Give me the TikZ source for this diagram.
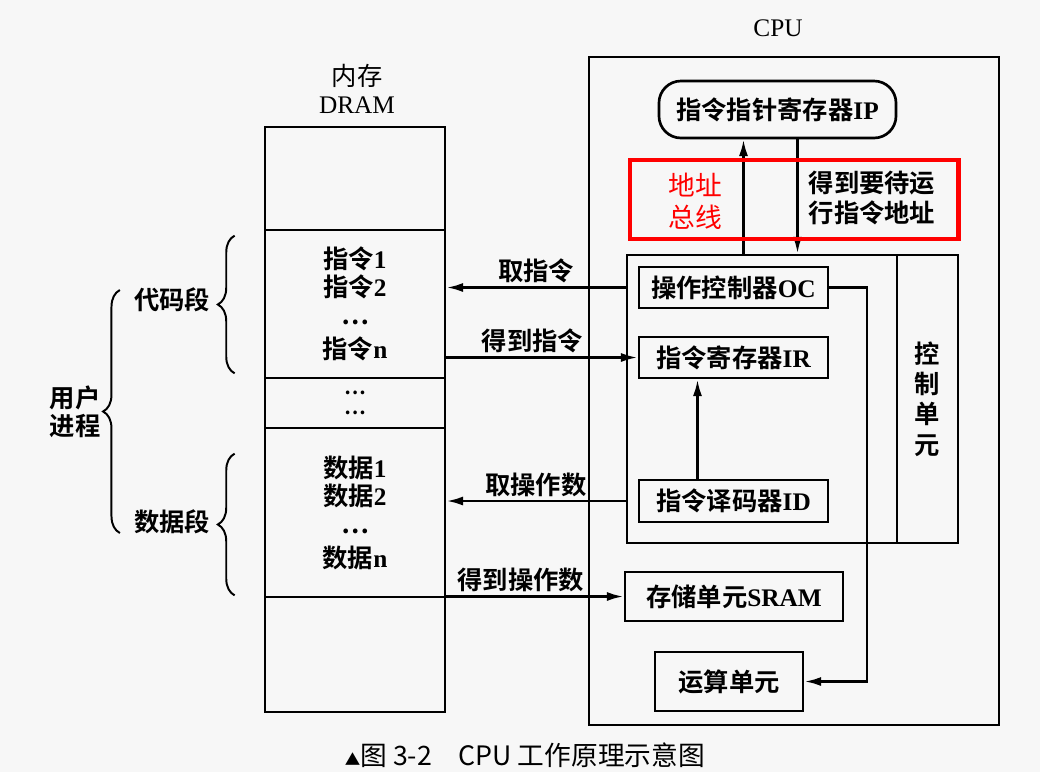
\documentclass[tikz,border=0pt]{standalone}
\usepackage{fontspec}
\setmainfont{Liberation Serif}
\newfontfamily\cjk{Noto Sans CJK SC}[BoldFont={Noto Sans CJK SC Bold}]
\usetikzlibrary{arrows.meta,positioning,calc,decorations.pathreplacing}

\newcommand\zh[1]{{\cjk #1}}
\newcommand\lblfont{\fontsize{18}{20}\selectfont\bfseries}
\newcommand\titlefont{\fontsize{18}{20}\selectfont}
\newcommand\redfont{\fontsize{19}{23}\selectfont\cjk}
\newcommand\ctlfont{\fontsize{18}{21.5}\selectfont\bfseries\cjk}
\newcommand\dotsfont{\fontsize{14}{14}\selectfont\bfseries}
\newcommand\capfont{\fontsize{19}{22}\selectfont\cjk}

\begin{document}
\begin{tikzpicture}[
    x=0.025cm, y=-0.025cm,
    line width=1.9pt,
    box/.style={rectangle, draw, inner sep=0pt, font=\lblfont},
    cell/.style={box, minimum width=4.5cm, align=center},
    arr/.style={-{Latex[length=12pt,width=6.5pt]}},
    lbl/.style={font=\lblfont, inner sep=2pt},
    brc/.style={decorate, decoration={brace, amplitude=0.42cm}, line width=1.4pt}
]
    % page
    \fill[black!3] (0,0) rectangle (1040,772);
    \useasboundingbox (0,0) rectangle (1040,772);

    % Memory
    \node[font=\titlefont, align=center] (dramlbl) at (357,89) {\zh{内存}\\DRAM};
    \node[cell, minimum height=2.575cm] (mtop) at (355,178.5) {};
    \node[cell, minimum height=3.7cm] (mcode) at (355,304) {\zh{指令}1\\\zh{指令}2\\\zh{…}\\[4pt]\zh{指令}n};
    \node[cell, minimum height=1.25cm, font=\dotsfont] (mdots) at (355,403) {\zh{…}\\\zh{…}};
    \node[cell, minimum height=4.225cm] (mdata) at (355,512.5) {\zh{数据}1\\\zh{数据}2\\\zh{…}\\[4pt]\zh{数据}n};
    \node[cell, minimum height=2.875cm] (mbot) at (355,654.5) {};

    % Segments
    \node[lbl] (codeseg) at (172,300) {\zh{代码段}};
    \node[lbl] (dataseg) at (172,522) {\zh{数据段}};
    \node[lbl, align=center] (user) at (75,412) {\zh{用户}\\\zh{进程}};
    \draw[brc] ($(mcode.south west)+(-29,-6)$) -- ($(mcode.north west)+(-29,7)$);
    \draw[brc] ($(mdata.south west)+(-29,-3)$) -- ($(mdata.north west)+(-29,27)$);
    \draw[brc] ($(dataseg.west)+(-10,11)$) -- ($(codeseg.west)+(-10,-10)$);

    % CPU
    \node[font=\titlefont] (cpulbl) at (778,28) {CPU};
    \node[box, minimum width=10.25cm, minimum height=16.7cm] (cpu) at (794,391) {};
    \node[box, rounded corners=0.55cm, minimum width=5.925cm, minimum height=1.425cm] (ip) at (777.5,109.5) {\zh{指令指针寄存器}IP};
    \node[box, minimum width=6.75cm, minimum height=7.2cm] (cu) at (762,399) {};
    \node[box, minimum width=1.525cm, minimum height=7.2cm, align=center, font=\ctlfont] (ctl) at (927.5,399) {控\\制\\单\\元};
    \node[box, minimum width=4.725cm, minimum height=1.025cm] (oc) at (733.5,287.5) {\zh{操作控制器}OC};
    \node[box, minimum width=4.725cm, minimum height=1.025cm] (ir) at (733.5,357.5) {\zh{指令寄存器}IR};
    \node[box, minimum width=4.725cm, minimum height=1.05cm] (id) at (733.5,501) {\zh{指令译码器}ID};
    \node[box, minimum width=5.45cm, minimum height=1.225cm] (sram) at (734,596.5) {\zh{存储单元}SRAM};
    \node[box, minimum width=3.7cm, minimum height=1.475cm] (alu) at (729,681.5) {\zh{运算单元}};

    % IP bus
    \coordinate (upx) at ([xshift=-0.85cm]ip.south);
    \coordinate (dnx) at ([xshift=0.5cm]ip.south);
    \draw[arr] (upx |- cu.north) -- (upx);
    \draw[arr] (dnx) -- (dnx |- cu.north);
    \node[lbl, align=center, font={\fontsize{18}{21}\selectfont\bfseries}] (iplbl) at (872,198) {\zh{得到要待运}\\\zh{行指令地址}};

    % Memory <-> CPU
    \draw[arr] (oc -| cu.west) -- node[lbl, above] {\zh{取指令}} (oc -| mcode.east);
    \draw[arr] (ir -| mcode.east) -- node[lbl, above, pos=0.45] {\zh{得到指令}} (ir.west);
    \draw[arr] (id -| cu.west) -- node[lbl, above] {\zh{取操作数}} (id -| mdata.east);
    \draw[arr] (sram -| mdata.east) -- node[lbl, above, pos=0.42] {\zh{得到操作数}} (sram.west);

    % Inside CPU
    \draw[arr] ([xshift=-0.9cm]id.north) -- ([xshift=-0.9cm]ir.south);
    \coordinate (ocbend) at (867,290);
    \draw[arr] (oc.east) -- (oc.east -| ocbend) |- (alu.east);

    % Red mark
    \node[draw=red, line width=3.5pt, minimum width=8.2cm, minimum height=1.975cm] (bus) at (794,199.5) {};
    \node[font=\redfont, text=red, align=center] (buslbl) at (695,201) {地址\\总线};

    % Caption
    \node[font=\capfont] (cap) at (525,755) {{\fontsize{11}{11}\selectfont ▲}图 3-2\quad CPU 工作原理示意图};
\end{tikzpicture}
\end{document}
